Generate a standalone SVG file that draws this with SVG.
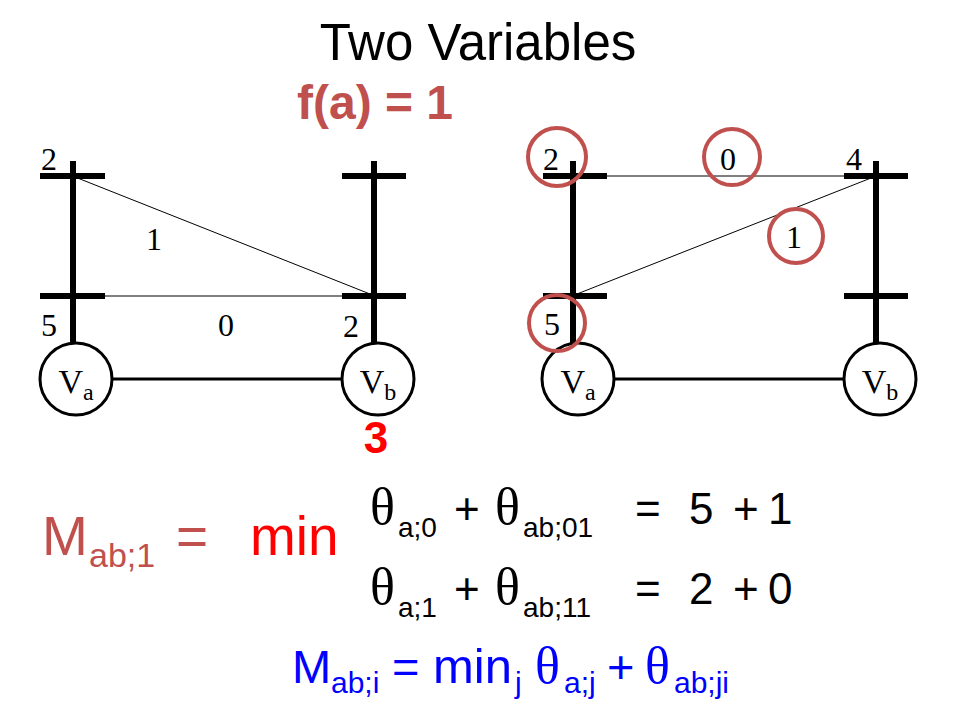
<svg xmlns="http://www.w3.org/2000/svg" width="960" height="720" viewBox="0 0 960 720">
<style>
.bar{stroke:#000;stroke-width:6;fill:none}
.thin{stroke:#000;stroke-width:1;fill:none}
.edge{stroke:#000;stroke-width:3;fill:none}
.node{fill:#fff;stroke:#000;stroke-width:3}
.hl{fill:none;stroke:#c0504d;stroke-width:4}
.num{font-family:"Liberation Serif","Times New Roman",serif;font-size:32px;fill:#000}
.vn{font-family:"Liberation Serif","Times New Roman",serif;font-size:34px;fill:#000}
.sans{font-family:"Liberation Sans",Arial,sans-serif}
.th{font-family:"Liberation Serif","Times New Roman",serif}
</style>
<rect width="960" height="720" fill="#fff"/>
<text x="478" y="60" text-anchor="middle" class="sans" font-size="51" fill="#000">Two Variables</text>
<text x="297" y="119" class="sans" font-size="48" font-weight="bold" fill="#c0504d">f(a) = 1</text>

<g id="connectors">
  <line class="edge" x1="112" y1="379" x2="342" y2="379"/>
  <line class="thin" x1="75" y1="177" x2="370" y2="294"/>
  <line class="thin" x1="105" y1="296" x2="342" y2="296"/>
  <line class="edge" x1="614" y1="379" x2="843" y2="379"/>
  <line class="thin" x1="607" y1="176" x2="844" y2="176"/>
  <line class="thin" x1="577" y1="294" x2="871" y2="178"/>
</g>

<g id="left-a-labels">
  <line class="bar" x1="73" y1="161" x2="73" y2="343"/>
  <line class="bar" x1="40" y1="176" x2="105" y2="176"/>
  <line class="bar" x1="40" y1="296" x2="105" y2="296"/>
</g>
<g id="left-b-labels">
  <line class="bar" x1="374" y1="161" x2="374" y2="343"/>
  <line class="bar" x1="342" y1="176" x2="406" y2="176"/>
  <line class="bar" x1="342" y1="296" x2="406" y2="296"/>
</g>
<g id="left-Va">
  <circle class="node" cx="76" cy="379" r="36"/>
  <text class="vn" x="76" y="393" text-anchor="middle">V<tspan font-size="24" dy="7">a</tspan></text>
</g>
<g id="left-Vb">
  <circle class="node" cx="378" cy="379" r="36"/>
  <text class="vn" x="378" y="393" text-anchor="middle">V<tspan font-size="24" dy="7">b</tspan></text>
</g>
<g id="left-texts">
  <text class="num" x="41" y="170">2</text>
  <text class="num" x="146" y="250">1</text>
  <text class="num" x="41" y="336">5</text>
  <text class="num" x="218" y="336">0</text>
  <text class="num" x="343" y="337">2</text>
  <text x="376" y="453" text-anchor="middle" class="sans" font-size="44" font-weight="bold" fill="#ff0000">3</text>
</g>

<g id="right-a-labels">
  <line class="bar" x1="573" y1="161" x2="573" y2="343"/>
  <line class="bar" x1="543" y1="176" x2="607" y2="176"/>
  <line class="bar" x1="543" y1="296" x2="607" y2="296"/>
</g>
<g id="right-b-labels">
  <line class="bar" x1="876" y1="161" x2="876" y2="343"/>
  <line class="bar" x1="844" y1="176" x2="908" y2="176"/>
  <line class="bar" x1="844" y1="296" x2="908" y2="296"/>
</g>
<g id="right-Va">
  <circle class="node" cx="578" cy="379" r="36"/>
  <text class="vn" x="578" y="393" text-anchor="middle">V<tspan font-size="24" dy="7">a</tspan></text>
</g>
<g id="right-Vb">
  <circle class="node" cx="880" cy="379" r="36"/>
  <text class="vn" x="880" y="393" text-anchor="middle">V<tspan font-size="24" dy="7">b</tspan></text>
</g>
<g id="right-texts">
  <text class="num" x="543" y="170">2</text>
  <text class="num" x="720" y="170">0</text>
  <text class="num" x="846" y="170">4</text>
  <text class="num" x="786" y="248">1</text>
  <text class="num" x="544" y="335">5</text>
  <circle class="hl" cx="557" cy="157" r="29"/>
  <circle class="hl" cx="732" cy="157" r="28"/>
  <circle class="hl" cx="796" cy="236" r="27"/>
  <circle class="hl" cx="557" cy="323" r="28"/>
</g>

<g id="formula-main">
  <text class="sans" x="42" y="555" font-size="55" fill="#c0504d">M</text>
  <text class="sans" x="89" y="567" font-size="34" fill="#c0504d">ab;1</text>
  <text class="sans" x="176" y="555" font-size="55" fill="#c0504d">=</text>
  <text class="sans" x="250" y="555" font-size="55" fill="#ff0000">min</text>
</g>
<g id="formula-row1">
  <text class="th" x="370" y="524" font-size="52" fill="#000">θ</text>
  <text class="sans" x="398" y="537" font-size="28" fill="#000">a;0</text>
  <text class="sans" x="454" y="524" font-size="44" fill="#000">+</text>
  <text class="th" x="495" y="524" font-size="52" fill="#000">θ</text>
  <text class="sans" x="523" y="537" font-size="28" fill="#000">ab;01</text>
  <text class="sans" x="635" y="524" font-size="44" fill="#000">=</text>
  <text class="sans" x="689" y="524" font-size="44" fill="#000">5</text>
  <text class="sans" x="733" y="524" font-size="44" fill="#000">+</text>
  <text class="sans" x="768" y="524" font-size="44" fill="#000">1</text>
</g>
<g id="formula-row2">
  <text class="th" x="370" y="604" font-size="52" fill="#000">θ</text>
  <text class="sans" x="398" y="617" font-size="28" fill="#000">a;1</text>
  <text class="sans" x="454" y="604" font-size="44" fill="#000">+</text>
  <text class="th" x="495" y="604" font-size="52" fill="#000">θ</text>
  <text class="sans" x="523" y="617" font-size="28" fill="#000">ab;11</text>
  <text class="sans" x="635" y="604" font-size="44" fill="#000">=</text>
  <text class="sans" x="689" y="604" font-size="44" fill="#000">2</text>
  <text class="sans" x="733" y="604" font-size="44" fill="#000">+</text>
  <text class="sans" x="768" y="604" font-size="44" fill="#000">0</text>
</g>
<g id="formula-general" fill="#0000ff">
  <text class="sans" x="292" y="683" font-size="47">M</text>
  <text class="sans" x="331" y="693" font-size="30">ab;i</text>
  <text class="sans" x="392" y="683" font-size="47">=</text>
  <text class="sans" x="433" y="683" font-size="49">min</text>
  <text class="sans" x="515" y="693" font-size="30">j</text>
  <text class="th" x="535" y="683" font-size="52">θ</text>
  <text class="sans" x="564" y="693" font-size="30">a;j</text>
  <text class="sans" x="607" y="683" font-size="47">+</text>
  <text class="th" x="645" y="683" font-size="52">θ</text>
  <text class="sans" x="674" y="693" font-size="30">ab;ji</text>
</g>
</svg>
